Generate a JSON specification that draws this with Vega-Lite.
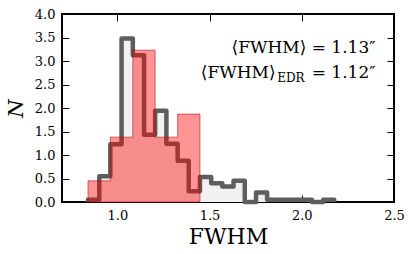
{
  "$schema": "https://vega.github.io/schema/vega-lite/v6.json",
  "width": 332,
  "height": 188,
  "autosize": "none",
  "padding": {"left": 62, "top": 14, "right": 21, "bottom": 52},
  "background": "white",
  "config": {
    "view": {"stroke": "#000", "strokeWidth": 2},
    "font": "DejaVu Serif",
    "axis": {
      "grid": false, "domain": false, "tickColor": "#000", "tickWidth": 1,
      "labelFont": "DejaVu Serif", "labelFontSize": 13, "labelColor": "#000",
      "titleFont": "DejaVu Serif", "titleColor": "#000", "titleFontWeight": "normal",
      "labelFlush": false, "labelOverlap": false
    }
  },
  "datasets": {
    "grayStep": [
      {"edge": 0.841, "n": 0}, {"edge": 0.841, "n": 0.05}, {"edge": 0.902, "n": 0.55},
      {"edge": 0.962, "n": 1.23}, {"edge": 1.023, "n": 3.48}, {"edge": 1.084, "n": 3.12},
      {"edge": 1.145, "n": 1.43}, {"edge": 1.205, "n": 1.94}, {"edge": 1.266, "n": 1.24},
      {"edge": 1.327, "n": 0.88}, {"edge": 1.387, "n": 0.23}, {"edge": 1.448, "n": 0.53},
      {"edge": 1.509, "n": 0.4}, {"edge": 1.569, "n": 0.33}, {"edge": 1.63, "n": 0.45},
      {"edge": 1.691, "n": 0}, {"edge": 1.752, "n": 0.2}, {"edge": 1.812, "n": 0.05},
      {"edge": 1.873, "n": 0.05}, {"edge": 1.934, "n": 0.05}, {"edge": 1.994, "n": 0.05},
      {"edge": 2.055, "n": 0}, {"edge": 2.116, "n": 0.05}, {"edge": 2.176, "n": 0}
    ],
    "redStep": [
      {"edge": 0.841, "n": 0.45},
      {"edge": 0.962, "n": 1.38},
      {"edge": 1.084, "n": 3.23},
      {"edge": 1.205, "n": 1.38},
      {"edge": 1.327, "n": 1.87},
      {"edge": 1.448, "n": 0}
    ],
    "notes": [
      {"x": 2.4, "y": 3.17, "part": "main", "label": "⟨FWHM⟩ = 1.13″"},
      {"x": 2.4, "y": 2.64, "part": "main", "label": "= 1.12″"},
      {"x": 2.4, "y": 2.64, "part": "sub", "label": "EDR"},
      {"x": 2.4, "y": 2.64, "part": "pre", "label": "⟨FWHM⟩"}
    ]
  },
  "resolve": {"axis": {"x": "independent", "y": "independent"}},
  "layer": [
    {
      "data": {"name": "grayStep"},
      "mark": {"type": "area", "interpolate": "step-after", "fill": "#f1f1f1"},
      "encoding": {
        "x": {"field": "edge", "type": "quantitative", "scale": {"domain": [0.7, 2.5], "nice": false},
              "axis": {"orient": "top", "labels": false, "title": null, "values": [1.0, 1.5, 2.0, 2.5], "tickSize": -7}},
        "y": {"field": "n", "type": "quantitative", "scale": {"domain": [0, 4], "nice": false},
              "axis": {"orient": "right", "labels": false, "title": null, "values": [0, 0.5, 1, 1.5, 2, 2.5, 3, 3.5, 4], "tickSize": -7}}
      }
    },
    {
      "data": {"name": "grayStep"},
      "mark": {"type": "line", "interpolate": "step-after", "stroke": "#5e5e5e", "strokeWidth": 4.5, "strokeJoin": "round"},
      "encoding": {
        "x": {"field": "edge", "type": "quantitative", "scale": {"domain": [0.7, 2.5], "nice": false}, "axis": null},
        "y": {"field": "n", "type": "quantitative", "scale": {"domain": [0, 4], "nice": false}, "axis": null}
      }
    },
    {
      "data": {"name": "redStep"},
      "mark": {"type": "area", "interpolate": "step-after", "fill": "red", "fillOpacity": 0.42, "stroke": "#b00000", "strokeOpacity": 0.55, "strokeWidth": 1},
      "encoding": {
        "x": {"field": "edge", "type": "quantitative", "scale": {"domain": [0.7, 2.5], "nice": false},
              "axis": {"orient": "bottom", "title": "FWHM", "titleFontSize": 22, "titlePadding": 4,
                       "values": [1.0, 1.5, 2.0, 2.5], "format": ".1f", "tickSize": -7, "labelPadding": 14}},
        "y": {"field": "n", "type": "quantitative", "scale": {"domain": [0, 4], "nice": false},
              "axis": {"orient": "left", "title": "N", "titleFontSize": 21, "titleFontStyle": "italic", "titlePadding": 8,
                       "values": [0, 0.5, 1, 1.5, 2, 2.5, 3, 3.5, 4], "format": ".1f", "tickSize": -7, "labelPadding": 14}}
      }
    },
    {
      "data": {"name": "notes"},
      "transform": [{"filter": "datum.part === 'main'"}],
      "mark": {"type": "text", "align": "right", "baseline": "alphabetic", "fontSize": 17, "font": "DejaVu Serif", "color": "#000"},
      "encoding": {
        "x": {"field": "x", "type": "quantitative", "scale": {"domain": [0.7, 2.5], "nice": false}, "axis": null},
        "y": {"field": "y", "type": "quantitative", "scale": {"domain": [0, 4], "nice": false}, "axis": null},
        "text": {"field": "label"}
      }
    },
    {
      "data": {"name": "notes"},
      "transform": [{"filter": "datum.part === 'sub'"}],
      "mark": {"type": "text", "align": "right", "baseline": "alphabetic", "fontSize": 12, "font": "DejaVu Serif", "color": "#000", "dx": -71, "dy": 4},
      "encoding": {
        "x": {"field": "x", "type": "quantitative", "scale": {"domain": [0.7, 2.5], "nice": false}, "axis": null},
        "y": {"field": "y", "type": "quantitative", "scale": {"domain": [0, 4], "nice": false}, "axis": null},
        "text": {"field": "label"}
      }
    },
    {
      "data": {"name": "notes"},
      "transform": [{"filter": "datum.part === 'pre'"}],
      "mark": {"type": "text", "align": "right", "baseline": "alphabetic", "fontSize": 17, "font": "DejaVu Serif", "color": "#000", "dx": -100},
      "encoding": {
        "x": {"field": "x", "type": "quantitative", "scale": {"domain": [0.7, 2.5], "nice": false}, "axis": null},
        "y": {"field": "y", "type": "quantitative", "scale": {"domain": [0, 4], "nice": false}, "axis": null},
        "text": {"field": "label"}
      }
    }
  ]
}
